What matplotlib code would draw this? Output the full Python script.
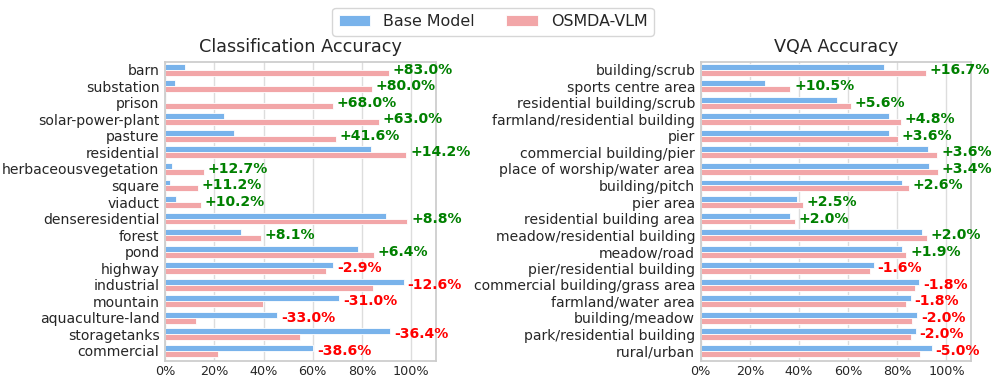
import matplotlib
matplotlib.use("Agg")
import matplotlib.pyplot as plt
import seaborn as sns
import numpy as np

sns.set_theme(style="whitegrid")
plt.rcParams['font.family'] = ['DejaVu Sans']

cls_categories = ["barn", "substation", "prison", "solar-power-plant", "pasture", "residential",
                  "herbaceousvegetation", "square", "viaduct", "denseresidential", "forest", "pond",
                  "highway", "industrial", "mountain", "aquaculture-land", "storagetanks", "commercial"]
cls_base = [8.0, 4.0, 0.0, 24.0, 27.8, 83.8, 3.0, 2.2, 4.5, 89.6, 30.9, 78.3, 68.4, 96.9, 70.8, 45.6, 91.4, 60.2]
cls_osmda = [91.0, 84.0, 68.0, 87.0, 69.4, 98.0, 15.7, 13.4, 14.7, 98.4, 39.0, 84.7, 65.5, 84.3, 39.8, 12.6, 55.0, 21.6]
cls_delta = ["+83.0%", "+80.0%", "+68.0%", "+63.0%", "+41.6%", "+14.2%", "+12.7%", "+11.2%", "+10.2%",
             "+8.8%", "+8.1%", "+6.4%", "-2.9%", "-12.6%", "-31.0%", "-33.0%", "-36.4%", "-38.6%"]

vqa_categories = ["building/scrub", "sports centre area", "residential building/scrub",
                  "farmland/residential building", "pier", "commercial building/pier",
                  "place of worship/water area", "building/pitch", "pier area",
                  "residential building area", "meadow/residential building", "meadow/road",
                  "pier/residential building", "commercial building/grass area", "farmland/water area",
                  "building/meadow", "park/residential building", "rural/urban"]
vqa_base = [74.8, 26.0, 55.4, 76.7, 76.7, 92.7, 93.1, 82.0, 39.0, 36.5, 90.0, 81.8, 70.5, 89.0, 85.5, 88.1, 87.6, 94.1]
vqa_osmda = [91.5, 36.5, 61.0, 81.5, 80.3, 96.3, 96.5, 84.6, 41.5, 38.5, 92.0, 83.7, 68.9, 87.2, 83.7, 86.1, 85.6, 89.1]
vqa_delta = ["+16.7%", "+10.5%", "+5.6%", "+4.8%", "+3.6%", "+3.6%", "+3.4%", "+2.6%", "+2.5%",
             "+2.0%", "+2.0%", "+1.9%", "-1.6%", "-1.8%", "-1.8%", "-2.0%", "-2.0%", "-5.0%"]

x_ticks = [0, 20, 40, 60, 80, 100]
x_ticklabels = ["0%", "20%", "40%", "60%", "80%", "100%"]

BLUE = "#79B3EB"
PINK = "#F2A6A8"

fig = plt.figure(figsize=(9.96, 3.82), dpi=100)
ax1 = fig.add_axes([0.1657, 0.055, 0.272, 0.783])
ax2 = fig.add_axes([0.7035, 0.055, 0.2714, 0.783])

def draw(ax, cats, base, osmda, delta, title):
    y = np.arange(len(cats))
    h = 0.36
    ax.barh(y - h / 2, base, height=h, color=BLUE, edgecolor="white", linewidth=0.6, label="Base Model")
    ax.barh(y + h / 2, osmda, height=h, color=PINK, edgecolor="white", linewidth=0.6, label="OSMDA-VLM")
    for i, d in enumerate(delta):
        col = "green" if d.startswith("+") else "red"
        ax.text(max(base[i], osmda[i]) + 1.5, y[i], d, va="center", ha="left",
                fontsize=10.1, fontweight="bold", color=col)
    ax.set_yticks(y)
    ax.set_yticklabels(cats, fontsize=10.1, color="#262626")
    ax.set_xticks(x_ticks)
    ax.set_xticklabels(x_ticklabels, fontsize=9.2, color="#262626")
    ax.set_xlim(0, 110)
    ax.set_ylim(len(cats) - 1 + 0.62, -0.48)
    ax.grid(axis="y", visible=False)
    ax.grid(axis="x", color="#dddddd", linewidth=1)
    ax.tick_params(axis="y", length=0, pad=4)
    ax.tick_params(axis="x", length=0, pad=3)
    for s in ax.spines.values():
        s.set_color("#cccccc")
    ax.set_title(title, fontsize=12.7, pad=7)

draw(ax1, cls_categories, cls_base, cls_osmda, cls_delta, "Classification Accuracy")
draw(ax2, vqa_categories, vqa_base, vqa_osmda, vqa_delta, "VQA Accuracy")

handles, labels = ax1.get_legend_handles_labels()
fig.legend(handles, labels, loc="upper center", bbox_to_anchor=(0.495, 1.0), ncol=2,
           fontsize=11.4, frameon=True)

fig.savefig("out.png", dpi=100)
